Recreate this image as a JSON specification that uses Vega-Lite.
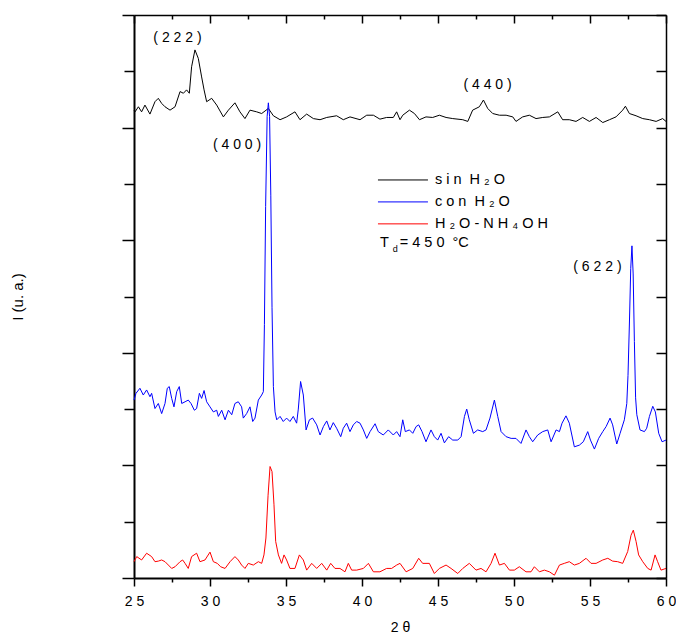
{
  "$schema": "https://vega.github.io/schema/vega-lite/v6.json",
  "width": 532,
  "height": 563,
  "autosize": {"type": "none"},
  "padding": {"left": 134, "top": 15, "right": 10, "bottom": 58},
  "background": "white",
  "config": {
    "view": {"stroke": null},
    "font": "Liberation Sans",
    "axis": {"grid": false, "domainColor": "black", "tickColor": "black", "labelColor": "black", "titleColor": "black", "titleFontWeight": "normal"}
  },
  "datasets": {
    "xrd": [
      {"s":"sin","t":25.00,"i":8.30},{"s":"sin","t":25.07,"i":8.28},{"s":"sin","t":25.29,"i":8.37},{"s":"sin","t":25.50,"i":8.28},{"s":"sin","t":25.72,"i":8.40},{"s":"sin","t":26.05,"i":8.24},{"s":"sin","t":26.38,"i":8.46},{"s":"sin","t":26.60,"i":8.52},{"s":"sin","t":26.82,"i":8.43},{"s":"sin","t":27.04,"i":8.37},{"s":"sin","t":27.37,"i":8.31},{"s":"sin","t":27.70,"i":8.37},{"s":"sin","t":28.03,"i":8.64},{"s":"sin","t":28.25,"i":8.61},{"s":"sin","t":28.46,"i":8.67},{"s":"sin","t":28.64,"i":8.61},{"s":"sin","t":28.79,"i":9.08},{"s":"sin","t":29.01,"i":9.38},{"s":"sin","t":29.23,"i":9.23},{"s":"sin","t":29.45,"i":8.90},{"s":"sin","t":29.61,"i":8.67},{"s":"sin","t":29.78,"i":8.46},{"s":"sin","t":30.11,"i":8.52},{"s":"sin","t":30.44,"i":8.40},{"s":"sin","t":30.88,"i":8.19},{"s":"sin","t":31.21,"i":8.31},{"s":"sin","t":31.64,"i":8.44},{"s":"sin","t":31.97,"i":8.28},{"s":"sin","t":32.30,"i":8.16},{"s":"sin","t":32.63,"i":8.31},{"s":"sin","t":33.07,"i":8.28},{"s":"sin","t":33.40,"i":8.25},{"s":"sin","t":33.84,"i":8.34},{"s":"sin","t":34.17,"i":8.21},{"s":"sin","t":34.61,"i":8.14},{"s":"sin","t":35.04,"i":8.19},{"s":"sin","t":35.59,"i":8.28},{"s":"sin","t":35.92,"i":8.14},{"s":"sin","t":36.36,"i":8.24},{"s":"sin","t":36.80,"i":8.16},{"s":"sin","t":37.24,"i":8.14},{"s":"sin","t":37.68,"i":8.18},{"s":"sin","t":38.33,"i":8.21},{"s":"sin","t":38.77,"i":8.14},{"s":"sin","t":39.21,"i":8.19},{"s":"sin","t":39.87,"i":8.14},{"s":"sin","t":40.31,"i":8.22},{"s":"sin","t":40.75,"i":8.22},{"s":"sin","t":41.18,"i":8.15},{"s":"sin","t":41.62,"i":8.18},{"s":"sin","t":42.06,"i":8.18},{"s":"sin","t":42.28,"i":8.28},{"s":"sin","t":42.50,"i":8.14},{"s":"sin","t":42.68,"i":8.22},{"s":"sin","t":43.12,"i":8.31},{"s":"sin","t":43.45,"i":8.25},{"s":"sin","t":43.78,"i":8.14},{"s":"sin","t":44.21,"i":8.19},{"s":"sin","t":44.65,"i":8.18},{"s":"sin","t":45.09,"i":8.22},{"s":"sin","t":45.53,"i":8.18},{"s":"sin","t":45.97,"i":8.16},{"s":"sin","t":46.63,"i":8.14},{"s":"sin","t":46.96,"i":8.11},{"s":"sin","t":47.28,"i":8.31},{"s":"sin","t":47.72,"i":8.37},{"s":"sin","t":47.99,"i":8.49},{"s":"sin","t":48.27,"i":8.34},{"s":"sin","t":48.60,"i":8.25},{"s":"sin","t":49.04,"i":8.22},{"s":"sin","t":49.48,"i":8.22},{"s":"sin","t":49.92,"i":8.19},{"s":"sin","t":50.13,"i":8.11},{"s":"sin","t":50.57,"i":8.19},{"s":"sin","t":51.01,"i":8.22},{"s":"sin","t":51.45,"i":8.16},{"s":"sin","t":51.89,"i":8.18},{"s":"sin","t":52.33,"i":8.19},{"s":"sin","t":52.88,"i":8.28},{"s":"sin","t":53.20,"i":8.14},{"s":"sin","t":53.64,"i":8.14},{"s":"sin","t":54.08,"i":8.11},{"s":"sin","t":54.52,"i":8.18},{"s":"sin","t":54.96,"i":8.11},{"s":"sin","t":55.40,"i":8.18},{"s":"sin","t":55.84,"i":8.09},{"s":"sin","t":56.28,"i":8.14},{"s":"sin","t":56.71,"i":8.19},{"s":"sin","t":57.15,"i":8.31},{"s":"sin","t":57.33,"i":8.38},{"s":"sin","t":57.59,"i":8.25},{"s":"sin","t":58.03,"i":8.21},{"s":"sin","t":58.47,"i":8.16},{"s":"sin","t":58.91,"i":8.14},{"s":"sin","t":59.35,"i":8.11},{"s":"sin","t":59.78,"i":8.16},{"s":"sin","t":60.00,"i":8.11},

      {"s":"nh4oh","t":25.00,"i":0.29},{"s":"nh4oh","t":25.18,"i":0.38},{"s":"nh4oh","t":25.50,"i":0.32},{"s":"nh4oh","t":25.83,"i":0.44},{"s":"nh4oh","t":26.16,"i":0.38},{"s":"nh4oh","t":26.38,"i":0.29},{"s":"nh4oh","t":26.60,"i":0.30},{"s":"nh4oh","t":26.82,"i":0.32},{"s":"nh4oh","t":27.04,"i":0.29},{"s":"nh4oh","t":27.26,"i":0.23},{"s":"nh4oh","t":27.48,"i":0.17},{"s":"nh4oh","t":27.70,"i":0.20},{"s":"nh4oh","t":28.03,"i":0.29},{"s":"nh4oh","t":28.20,"i":0.32},{"s":"nh4oh","t":28.36,"i":0.26},{"s":"nh4oh","t":28.57,"i":0.17},{"s":"nh4oh","t":28.79,"i":0.38},{"s":"nh4oh","t":29.12,"i":0.44},{"s":"nh4oh","t":29.34,"i":0.29},{"s":"nh4oh","t":29.67,"i":0.32},{"s":"nh4oh","t":30.00,"i":0.46},{"s":"nh4oh","t":30.22,"i":0.29},{"s":"nh4oh","t":30.48,"i":0.26},{"s":"nh4oh","t":30.70,"i":0.20},{"s":"nh4oh","t":30.99,"i":0.17},{"s":"nh4oh","t":31.32,"i":0.29},{"s":"nh4oh","t":31.64,"i":0.38},{"s":"nh4oh","t":31.86,"i":0.32},{"s":"nh4oh","t":32.08,"i":0.23},{"s":"nh4oh","t":32.30,"i":0.17},{"s":"nh4oh","t":32.52,"i":0.26},{"s":"nh4oh","t":32.85,"i":0.23},{"s":"nh4oh","t":33.18,"i":0.29},{"s":"nh4oh","t":33.40,"i":0.26},{"s":"nh4oh","t":33.55,"i":0.41},{"s":"nh4oh","t":33.68,"i":0.71},{"s":"nh4oh","t":33.82,"i":1.47},{"s":"nh4oh","t":33.95,"i":1.98},{"s":"nh4oh","t":34.08,"i":1.89},{"s":"nh4oh","t":34.21,"i":1.30},{"s":"nh4oh","t":34.32,"i":0.65},{"s":"nh4oh","t":34.50,"i":0.41},{"s":"nh4oh","t":34.71,"i":0.26},{"s":"nh4oh","t":34.87,"i":0.41},{"s":"nh4oh","t":35.04,"i":0.32},{"s":"nh4oh","t":35.26,"i":0.17},{"s":"nh4oh","t":35.59,"i":0.17},{"s":"nh4oh","t":35.88,"i":0.41},{"s":"nh4oh","t":36.14,"i":0.32},{"s":"nh4oh","t":36.36,"i":0.14},{"s":"nh4oh","t":36.69,"i":0.26},{"s":"nh4oh","t":37.02,"i":0.17},{"s":"nh4oh","t":37.35,"i":0.26},{"s":"nh4oh","t":37.68,"i":0.14},{"s":"nh4oh","t":37.94,"i":0.26},{"s":"nh4oh","t":38.22,"i":0.17},{"s":"nh4oh","t":38.55,"i":0.17},{"s":"nh4oh","t":38.88,"i":0.11},{"s":"nh4oh","t":39.10,"i":0.26},{"s":"nh4oh","t":39.32,"i":0.14},{"s":"nh4oh","t":39.65,"i":0.14},{"s":"nh4oh","t":40.09,"i":0.17},{"s":"nh4oh","t":40.42,"i":0.26},{"s":"nh4oh","t":40.75,"i":0.11},{"s":"nh4oh","t":41.18,"i":0.11},{"s":"nh4oh","t":41.62,"i":0.17},{"s":"nh4oh","t":41.95,"i":0.17},{"s":"nh4oh","t":42.28,"i":0.23},{"s":"nh4oh","t":42.50,"i":0.26},{"s":"nh4oh","t":42.90,"i":0.11},{"s":"nh4oh","t":43.34,"i":0.17},{"s":"nh4oh","t":43.73,"i":0.35},{"s":"nh4oh","t":43.99,"i":0.26},{"s":"nh4oh","t":44.43,"i":0.26},{"s":"nh4oh","t":44.76,"i":0.08},{"s":"nh4oh","t":45.09,"i":0.17},{"s":"nh4oh","t":45.53,"i":0.23},{"s":"nh4oh","t":45.86,"i":0.17},{"s":"nh4oh","t":46.30,"i":0.08},{"s":"nh4oh","t":46.63,"i":0.17},{"s":"nh4oh","t":47.06,"i":0.26},{"s":"nh4oh","t":47.50,"i":0.14},{"s":"nh4oh","t":47.83,"i":0.17},{"s":"nh4oh","t":48.16,"i":0.11},{"s":"nh4oh","t":48.49,"i":0.26},{"s":"nh4oh","t":48.75,"i":0.44},{"s":"nh4oh","t":49.04,"i":0.23},{"s":"nh4oh","t":49.37,"i":0.26},{"s":"nh4oh","t":49.70,"i":0.14},{"s":"nh4oh","t":50.02,"i":0.14},{"s":"nh4oh","t":50.35,"i":0.20},{"s":"nh4oh","t":50.79,"i":0.11},{"s":"nh4oh","t":51.12,"i":0.11},{"s":"nh4oh","t":51.34,"i":0.20},{"s":"nh4oh","t":51.67,"i":0.11},{"s":"nh4oh","t":52.00,"i":0.14},{"s":"nh4oh","t":52.33,"i":0.11},{"s":"nh4oh","t":52.66,"i":0.05},{"s":"nh4oh","t":52.99,"i":0.23},{"s":"nh4oh","t":53.31,"i":0.26},{"s":"nh4oh","t":53.64,"i":0.29},{"s":"nh4oh","t":53.97,"i":0.23},{"s":"nh4oh","t":54.30,"i":0.26},{"s":"nh4oh","t":54.74,"i":0.35},{"s":"nh4oh","t":55.07,"i":0.26},{"s":"nh4oh","t":55.40,"i":0.26},{"s":"nh4oh","t":55.84,"i":0.32},{"s":"nh4oh","t":56.17,"i":0.35},{"s":"nh4oh","t":56.49,"i":0.30},{"s":"nh4oh","t":56.82,"i":0.29},{"s":"nh4oh","t":57.15,"i":0.26},{"s":"nh4oh","t":57.48,"i":0.47},{"s":"nh4oh","t":57.70,"i":0.76},{"s":"nh4oh","t":57.85,"i":0.85},{"s":"nh4oh","t":58.03,"i":0.65},{"s":"nh4oh","t":58.20,"i":0.41},{"s":"nh4oh","t":58.47,"i":0.29},{"s":"nh4oh","t":58.80,"i":0.17},{"s":"nh4oh","t":59.02,"i":0.14},{"s":"nh4oh","t":59.28,"i":0.41},{"s":"nh4oh","t":59.45,"i":0.29},{"s":"nh4oh","t":59.67,"i":0.14},{"s":"nh4oh","t":60.00,"i":0.17},

      {"s":"con","t":25.00,"i":3.16},{"s":"con","t":25.13,"i":3.28},{"s":"con","t":25.39,"i":3.37},{"s":"con","t":25.61,"i":3.25},{"s":"con","t":25.83,"i":3.34},{"s":"con","t":26.05,"i":3.22},{"s":"con","t":26.16,"i":3.28},{"s":"con","t":26.38,"i":3.01},{"s":"con","t":26.60,"i":3.10},{"s":"con","t":26.82,"i":2.92},{"s":"con","t":27.04,"i":3.10},{"s":"con","t":27.19,"i":3.37},{"s":"con","t":27.32,"i":3.40},{"s":"con","t":27.48,"i":3.19},{"s":"con","t":27.63,"i":3.04},{"s":"con","t":27.81,"i":3.31},{"s":"con","t":27.98,"i":3.40},{"s":"con","t":28.14,"i":3.10},{"s":"con","t":28.36,"i":3.13},{"s":"con","t":28.57,"i":3.16},{"s":"con","t":28.75,"i":3.10},{"s":"con","t":28.97,"i":2.98},{"s":"con","t":29.12,"i":3.01},{"s":"con","t":29.30,"i":3.28},{"s":"con","t":29.45,"i":3.19},{"s":"con","t":29.61,"i":3.33},{"s":"con","t":29.78,"i":3.13},{"s":"con","t":30.00,"i":3.04},{"s":"con","t":30.22,"i":2.95},{"s":"con","t":30.44,"i":2.98},{"s":"con","t":30.55,"i":2.87},{"s":"con","t":30.77,"i":2.98},{"s":"con","t":30.99,"i":2.81},{"s":"con","t":31.21,"i":2.98},{"s":"con","t":31.43,"i":2.90},{"s":"con","t":31.64,"i":3.10},{"s":"con","t":31.86,"i":3.13},{"s":"con","t":32.08,"i":3.04},{"s":"con","t":32.19,"i":2.84},{"s":"con","t":32.41,"i":2.92},{"s":"con","t":32.63,"i":3.04},{"s":"con","t":32.81,"i":2.78},{"s":"con","t":32.96,"i":2.84},{"s":"con","t":33.18,"i":3.16},{"s":"con","t":33.40,"i":3.25},{"s":"con","t":33.51,"i":3.31},{"s":"con","t":33.58,"i":4.5},{"s":"con","t":33.66,"i":6.6},{"s":"con","t":33.76,"i":8.2},{"s":"con","t":33.84,"i":8.44},{"s":"con","t":33.92,"i":8.2},{"s":"con","t":34.00,"i":6.8},{"s":"con","t":34.08,"i":4.8},{"s":"con","t":34.17,"i":3.4},{"s":"con","t":34.28,"i":2.95},{"s":"con","t":34.39,"i":2.81},{"s":"con","t":34.61,"i":2.87},{"s":"con","t":34.82,"i":2.78},{"s":"con","t":35.04,"i":2.84},{"s":"con","t":35.26,"i":2.78},{"s":"con","t":35.48,"i":2.87},{"s":"con","t":35.70,"i":2.75},{"s":"con","t":35.81,"i":3.00},{"s":"con","t":35.96,"i":3.49},{"s":"con","t":36.14,"i":3.25},{"s":"con","t":36.32,"i":2.63},{"s":"con","t":36.54,"i":2.81},{"s":"con","t":36.75,"i":2.84},{"s":"con","t":37.02,"i":2.72},{"s":"con","t":37.24,"i":2.54},{"s":"con","t":37.46,"i":2.69},{"s":"con","t":37.68,"i":2.79},{"s":"con","t":37.89,"i":2.63},{"s":"con","t":38.11,"i":2.76},{"s":"con","t":38.33,"i":2.66},{"s":"con","t":38.60,"i":2.51},{"s":"con","t":38.77,"i":2.66},{"s":"con","t":38.99,"i":2.75},{"s":"con","t":39.21,"i":2.60},{"s":"con","t":39.43,"i":2.72},{"s":"con","t":39.65,"i":2.78},{"s":"con","t":39.87,"i":2.75},{"s":"con","t":40.09,"i":2.63},{"s":"con","t":40.31,"i":2.48},{"s":"con","t":40.53,"i":2.60},{"s":"con","t":40.86,"i":2.74},{"s":"con","t":41.07,"i":2.60},{"s":"con","t":41.40,"i":2.54},{"s":"con","t":41.73,"i":2.63},{"s":"con","t":42.06,"i":2.54},{"s":"con","t":42.28,"i":2.60},{"s":"con","t":42.50,"i":2.51},{"s":"con","t":42.68,"i":2.81},{"s":"con","t":42.85,"i":2.60},{"s":"con","t":43.12,"i":2.63},{"s":"con","t":43.34,"i":2.57},{"s":"con","t":43.56,"i":2.69},{"s":"con","t":43.73,"i":2.72},{"s":"con","t":43.95,"i":2.60},{"s":"con","t":44.21,"i":2.42},{"s":"con","t":44.54,"i":2.63},{"s":"con","t":44.76,"i":2.51},{"s":"con","t":44.98,"i":2.45},{"s":"con","t":45.20,"i":2.57},{"s":"con","t":45.42,"i":2.40},{"s":"con","t":45.70,"i":2.51},{"s":"con","t":45.97,"i":2.45},{"s":"con","t":46.30,"i":2.45},{"s":"con","t":46.52,"i":2.51},{"s":"con","t":46.74,"i":2.87},{"s":"con","t":46.89,"i":3.00},{"s":"con","t":47.06,"i":2.81},{"s":"con","t":47.33,"i":2.57},{"s":"con","t":47.61,"i":2.63},{"s":"con","t":47.94,"i":2.60},{"s":"con","t":48.16,"i":2.63},{"s":"con","t":48.42,"i":2.84},{"s":"con","t":48.71,"i":3.16},{"s":"con","t":48.93,"i":2.87},{"s":"con","t":49.15,"i":2.60},{"s":"con","t":49.48,"i":2.51},{"s":"con","t":49.81,"i":2.48},{"s":"con","t":50.13,"i":2.48},{"s":"con","t":50.46,"i":2.39},{"s":"con","t":50.79,"i":2.63},{"s":"con","t":51.01,"i":2.51},{"s":"con","t":51.23,"i":2.42},{"s":"con","t":51.56,"i":2.54},{"s":"con","t":51.89,"i":2.60},{"s":"con","t":52.22,"i":2.63},{"s":"con","t":52.44,"i":2.42},{"s":"con","t":52.77,"i":2.63},{"s":"con","t":52.99,"i":2.60},{"s":"con","t":53.16,"i":2.75},{"s":"con","t":53.42,"i":2.88},{"s":"con","t":53.64,"i":2.75},{"s":"con","t":53.97,"i":2.33},{"s":"con","t":54.30,"i":2.36},{"s":"con","t":54.56,"i":2.42},{"s":"con","t":54.85,"i":2.60},{"s":"con","t":55.03,"i":2.45},{"s":"con","t":55.29,"i":2.29},{"s":"con","t":55.57,"i":2.48},{"s":"con","t":55.84,"i":2.60},{"s":"con","t":56.06,"i":2.69},{"s":"con","t":56.32,"i":2.84},{"s":"con","t":56.49,"i":2.72},{"s":"con","t":56.76,"i":2.38},{"s":"con","t":56.98,"i":2.57},{"s":"con","t":57.26,"i":2.81},{"s":"con","t":57.42,"i":3.10},{"s":"con","t":57.50,"i":3.6},{"s":"con","t":57.60,"i":4.6},{"s":"con","t":57.68,"i":5.5},{"s":"con","t":57.76,"i":5.90},{"s":"con","t":57.84,"i":5.4},{"s":"con","t":57.92,"i":4.2},{"s":"con","t":58.00,"i":3.2},{"s":"con","t":58.08,"i":2.9},{"s":"con","t":58.29,"i":2.63},{"s":"con","t":58.58,"i":2.60},{"s":"con","t":58.73,"i":2.66},{"s":"con","t":58.91,"i":2.87},{"s":"con","t":59.13,"i":3.05},{"s":"con","t":59.30,"i":2.95},{"s":"con","t":59.52,"i":2.57},{"s":"con","t":59.74,"i":2.42},{"s":"con","t":60.00,"i":2.45}
    ],
    "peaks": [
      {"label": "( 2 2 2 )", "t": 27.86, "i": 9.59},
      {"label": "( 4 0 0 )", "t": 31.78, "i": 7.69},
      {"label": "( 4 4 0 )", "t": 48.26, "i": 8.76},
      {"label": "( 6 2 2 )", "t": 55.49, "i": 5.52}
    ],
    "legend": [
      {"s": "sin", "label": "s i n \u00a0H ₂ O", "row": 7.07},
      {"s": "con", "label": "c o n \u00a0H ₂ O", "row": 6.68},
      {"s": "nh4oh", "label": "H ₂ O - N H ₄ O H", "row": 6.29}
    ],
    "note": [{"id": "Td"}]
  },
  "resolve": {"axis": {"x": "independent", "y": "independent"}},
  "layer": [
    {
      "data": {"name": "xrd"},
      "mark": {"type": "line", "strokeWidth": 1},
      "encoding": {
        "x": {
          "field": "t", "type": "quantitative",
          "scale": {"domain": [25, 60], "nice": false, "zero": false},
          "axis": {
            "orient": "bottom",
            "values": [25, 27.5, 30, 32.5, 35, 37.5, 40, 42.5, 45, 47.5, 50, 52.5, 55, 57.5, 60],
            "labelExpr": "datum.value % 5 === 0 ? (floor(datum.value / 10) + ' ' + (datum.value % 10)) : ''",
            "tickSize": {"condition": {"test": "datum.value % 5 === 0", "value": 8}, "value": 4},
            "tickWidth": 1.5,
            "domainWidth": 2,
            "labelFontSize": 14,
            "labelPadding": 8,
            "labelFlush": false,
            "labelOverlap": false,
            "title": "2 θ",
            "titleFontSize": 14,
            "titlePadding": 12
          }
        },
        "y": {
          "field": "i", "type": "quantitative",
          "scale": {"domain": [0, 10], "nice": false},
          "axis": {
            "orient": "left",
            "values": [0, 1, 2, 3, 4, 5, 6, 7, 8, 9, 10],
            "labels": false,
            "tickSize": {"condition": {"test": "datum.value % 2 === 0", "value": 12}, "value": 10},
            "tickWidth": 1.5,
            "domainWidth": 2,
            "title": "I  (u. a.)",
            "titleFontSize": 15,
            "titlePadding": 96
          }
        },
        "color": {
          "field": "s", "type": "nominal",
          "scale": {"domain": ["sin", "con", "nh4oh"], "range": ["#000000", "#0000ff", "#ff0000"]},
          "legend": null
        }
      }
    },
    {
      "data": {"name": "peaks"},
      "mark": {"type": "text", "fontSize": 14, "align": "center", "baseline": "middle", "color": "black"},
      "encoding": {
        "x": {
          "field": "t", "type": "quantitative",
          "axis": {
            "orient": "top",
            "values": [25, 27.5, 30, 32.5, 35, 37.5, 40, 42.5, 45, 47.5, 50, 52.5, 55, 57.5, 60],
            "labels": false,
            "title": null,
            "tickSize": {"condition": {"test": "datum.value % 5 === 0", "value": -8}, "value": -4},
            "tickWidth": 1.5,
            "domainWidth": 1.5
          }
        },
        "y": {
          "field": "i", "type": "quantitative",
          "axis": {
            "orient": "right",
            "values": [0, 1, 2, 3, 4, 5, 6, 7, 8, 9, 10],
            "labels": false,
            "title": null,
            "tickSize": -10,
            "tickWidth": 1.5,
            "domainWidth": 1.5
          }
        },
        "text": {"field": "label"}
      }
    },
    {
      "data": {"name": "legend"},
      "mark": {"type": "rule", "strokeWidth": 1},
      "encoding": {
        "x": {"datum": 41.05, "type": "quantitative", "axis": null},
        "x2": {"datum": 44.34},
        "y": {"field": "row", "type": "quantitative", "axis": null},
        "color": {"field": "s", "type": "nominal", "legend": null}
      }
    },
    {
      "data": {"name": "legend"},
      "mark": {"type": "text", "fontSize": 14.5, "align": "left", "baseline": "middle", "color": "black"},
      "encoding": {
        "x": {"datum": 44.8, "type": "quantitative", "axis": null},
        "y": {"field": "row", "type": "quantitative", "axis": null},
        "text": {"field": "label"}
      }
    },
    {
      "data": {"name": "note"},
      "mark": {"type": "text", "fontSize": 14.5, "align": "left", "baseline": "middle", "color": "black", "text": "T"},
      "encoding": {"x": {"datum": 41.18, "type": "quantitative", "axis": null}, "y": {"datum": 5.95, "type": "quantitative", "axis": null}}
    },
    {
      "data": {"name": "note"},
      "mark": {"type": "text", "fontSize": 9, "align": "left", "baseline": "middle", "color": "black", "text": "d", "dy": 6},
      "encoding": {"x": {"datum": 42.02, "type": "quantitative", "axis": null}, "y": {"datum": 5.95, "type": "quantitative", "axis": null}}
    },
    {
      "data": {"name": "note"},
      "mark": {"type": "text", "fontSize": 14.5, "align": "left", "baseline": "middle", "color": "black", "text": "= 4 5 0 \u00a0°C"},
      "encoding": {"x": {"datum": 42.48, "type": "quantitative", "axis": null}, "y": {"datum": 5.95, "type": "quantitative", "axis": null}}
    }
  ]
}
